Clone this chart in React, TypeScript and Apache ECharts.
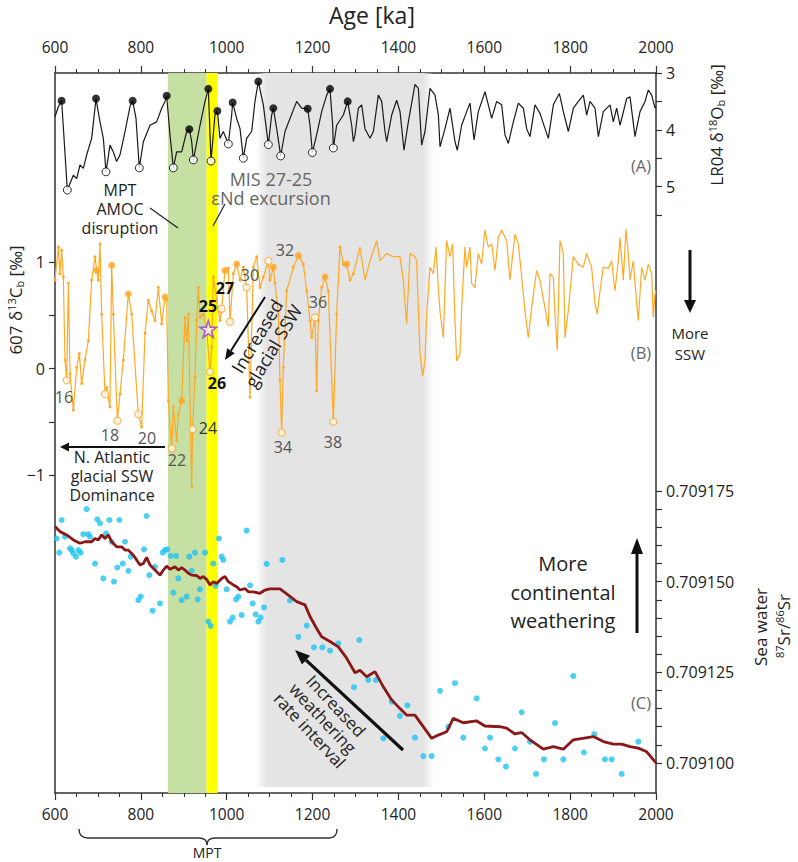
import React, { useEffect, useRef } from 'react';
import * as echarts from 'echarts';

const FONT = '"Open Sans", "Noto Sans", sans-serif';

// ---------- x axis ----------
const AGE_MIN = 600;
const AGE_MAX = 2000;
const AGE_STEP = 200;

// ---------- bands (ka) ----------
const greenBand = [863, 953];
const yellowBand = [953, 979];
const greyBand = [1068, 1482];

// ---------- (A) LR04 benthic d18O ----------
const lr04: number[][] = [
  [600.0,3.77],[607.8,3.59],[615.5,3.49],[628.7,5.06],[642.7,4.80],[650.5,4.86],[658.2,4.62],[666.0,4.68],[673.8,4.44],[685.4,4.15],
  [695.5,3.45],[704.8,3.86],[712.6,4.15],[718.8,4.74],[728.1,4.27],[735.9,4.39],[743.6,4.56],[751.4,4.44],[763.1,4.03],[774.7,3.59],
  [780.9,3.49],[788.7,3.80],[796.4,4.67],[805.8,4.21],[821.3,3.92],[836.8,3.86],[848.5,3.62],[856.2,3.50],[860.1,3.40],[867.9,4.09],
  [875.7,4.67],[883.4,4.39],[895.1,4.39],[906.7,4.03],[912.9,3.99],[918.4,4.21],[922.3,4.53],[937.8,3.92],[949.4,3.50],[957.2,3.28],
  [963.4,4.55],[972.7,3.74],[978.2,3.67],[984.4,4.15],[992.1,4.03],[1003.8,4.25],[1011.5,3.74],[1013.9,3.52],[1023.2,3.80],[1031.0,3.98],
  [1038.7,4.50],[1046.5,4.15],[1058.1,4.03],[1065.9,3.50],[1073.7,3.15],[1085.3,3.56],[1097.0,4.26],[1104.7,3.74],[1108.6,3.62],[1116.4,3.98],
  [1125.7,4.46],[1135.8,4.03],[1147.4,3.80],[1163.0,3.50],[1174.6,3.62],[1188.6,3.63],[1194.0,3.92],[1199.5,4.40],[1209.5,4.09],[1221.2,3.68],
  [1232.9,3.39],[1240.6,3.28],[1246.8,3.92],[1248.4,4.32],[1256.1,3.92],[1271.7,3.74],[1281.8,3.50],[1291.1,3.92],[1295.0,4.21],
  [1298.8,4.09],[1306.6,3.62],[1314.4,3.56],[1322.1,3.98],[1333.8,4.15],[1341.6,4.03],[1353.2,3.39],[1361.0,3.50],[1368.7,4.03],[1372.6,4.21],
  [1384.3,3.74],[1395.9,3.48],[1403.7,3.68],[1413.0,4.36],[1423.1,3.86],[1438.6,3.20],[1446.4,3.27],[1454.1,4.27],[1461.9,4.03],[1473.6,3.27],
  [1485.2,3.39],[1493.0,3.74],[1496.9,4.30],[1508.5,3.98],[1520.2,3.62],[1531.8,4.21],[1537.2,4.36],[1547.3,3.92],[1559.0,3.68],[1566.7,3.53],
  [1576.1,4.18],[1586.1,3.68],[1601.7,3.33],[1609.4,3.56],[1617.2,3.80],[1628.9,3.50],[1640.5,3.56],[1648.3,4.09],[1656.0,4.24],[1667.7,3.86],
  [1679.3,3.53],[1691.0,3.62],[1698.7,3.98],[1706.5,4.12],[1718.1,3.56],[1729.8,3.71],[1741.5,3.98],[1749.2,4.15],[1760.9,3.56],[1774.8,3.36],
  [1784.2,3.68],[1795.8,4.03],[1807.5,3.62],[1819.1,3.50],[1830.8,3.39],[1838.5,3.74],[1846.3,3.50],[1857.9,3.62],[1865.7,4.12],[1877.3,3.68],
  [1892.9,3.56],[1900.6,3.86],[1908.4,3.62],[1916.2,3.92],[1931.7,3.45],[1939.5,3.42],[1951.1,4.12],[1962.8,3.68],[1974.4,3.50],[1982.2,3.30],
  [1990.0,3.39],[1997.7,3.62],[2000.0,3.59],
];
const lr04Interglacials: number[][] = [
  [615.5,3.49],[695.5,3.45],[780.9,3.49],[860.1,3.40],[912.9,3.99],[957.2,3.28],[978.2,3.67],[1013.9,3.52],[1073.7,3.15],[1108.6,3.62],
  [1188.6,3.63],[1240.6,3.28],[1281.8,3.50],
];
const lr04Glacials: number[][] = [
  [628.7,5.06],[718.8,4.74],[796.4,4.67],[875.7,4.67],[922.3,4.53],[963.4,4.55],[1003.8,4.25],[1038.7,4.50],[1097.0,4.26],[1125.7,4.46],
  [1199.5,4.40],[1248.4,4.32],
];
const lr04Ticks = [3, 3.5, 4, 4.5, 5, 5.5];
const lr04Labels = [3, 4, 5];

// ---------- (B) Site 607 benthic d13C ----------
const d13cEarly: number[][] = [
  [600.0,0.83],[607.8,1.14],[611.7,0.89],[615.5,1.11],[619.4,0.86],[623.3,0.08],[627.2,-0.11],[631.1,0.80],[635.0,-0.05],[642.7,-0.39],
  [650.5,0.01],[656.7,0.14],[662.1,-0.14],[669.9,0.08],[677.7,0.26],[685.4,0.83],[693.2,1.05],[697.1,0.92],[700.9,0.83],[704.8,1.17],
  [708.7,0.51],[716.5,-0.24],[720.4,-0.18],[728.1,-0.36],[732.0,0.97],[735.9,0.51],[745.2,-0.49],[751.4,-0.24],[759.2,0.08],[770.8,0.70],
  [778.6,0.51],[794.1,-0.43],[801.9,-0.55],[809.7,0.33],[817.4,0.64],[825.2,0.54],[832.9,0.45],[840.7,0.76],[848.5,0.42],[856.3,0.67],
  [860.1,0.64],[864.0,-0.30],[871.8,-0.75],[875.7,-0.36],[883.4,-0.68],[887.3,-0.43],[895.1,-0.30],[902.8,0.48],[906.7,0.26],[910.6,0.51],
  [918.4,-1.11],[920.7,-0.57],[926.1,-0.08],[930.0,0.45],[933.9,0.76],[937.8,0.48],[945.5,0.51],[953.3,0.36],[961.1,-0.03],[965.0,0.20],
  [968.8,0.86],[976.6,0.64],[984.4,0.45],[988.2,0.56],[996.0,0.92],[1003.8,0.94],[1007.7,0.44],[1015.4,0.89],[1023.2,0.98],[1031.0,0.83],
  [1038.7,0.95],[1046.5,0.76],[1054.3,-0.27],[1062.0,0.95],[1069.8,1.05],[1077.6,0.76],[1085.3,0.86],[1097.0,1.01],[1100.8,0.83],[1108.6,0.95],
  [1112.5,0.80],[1120.3,0.51],[1124.1,-0.11],[1128.0,-0.60],[1131.9,0.01],[1139.7,0.73],[1155.2,0.95],[1166.8,1.06],[1178.5,0.98],[1186.3,0.73],
  [1194.0,0.45],[1197.9,0.29],[1205.7,0.48],[1209.5,-0.21],[1213.4,0.45],[1221.2,0.76],[1229.0,0.86],[1236.7,0.73],[1248.4,-0.50],[1256.1,0.51],
  [1263.9,1.14],[1271.7,0.98],[1279.4,0.98],[1287.2,0.83],[1295.0,0.89],
];
const d13cLate: number[][] = [
  [1295.0,0.89],[1310.5,1.14],[1322.1,0.83],[1333.8,1.01],[1349.3,1.20],[1357.1,1.01],[1372.6,1.08],[1388.1,1.05],[1403.6,1.05],[1411.4,0.83],
  [1419.0,0.42],[1427.0,1.08],[1438.5,1.05],[1442.4,1.01],[1450.2,0.14],[1456.4,-0.07],[1461.8,0.07],[1465.7,0.51],[1473.5,0.95],[1481.3,0.89],
  [1487.5,1.14],[1492.9,0.76],[1496.8,0.54],[1504.5,0.29],[1512.3,1.20],[1520.1,1.05],[1526.3,1.17],[1531.7,0.45],[1535.6,0.07],[1543.4,0.14],
  [1547.3,0.57],[1555.0,1.14],[1558.9,0.95],[1566.7,1.14],[1570.5,0.80],[1578.3,0.76],[1586.0,1.08],[1593.8,0.98],[1601.6,1.30],[1609.4,1.14],
  [1617.1,1.17],[1625.0,0.92],[1632.7,1.23],[1640.4,1.30],[1652.1,1.20],[1659.8,0.83],[1671.5,1.26],[1679.3,1.17],[1687.0,0.86],[1694.8,0.54],
  [1702.5,0.29],[1710.3,0.57],[1722.0,0.92],[1729.7,0.83],[1741.4,0.57],[1749.1,0.39],[1753.0,0.89],[1760.8,0.86],[1764.7,0.51],[1770.1,0.17],
  [1776.3,1.20],[1784.1,1.08],[1788.0,0.29],[1795.7,0.54],[1807.4,1.05],[1819.0,0.98],[1830.7,0.95],[1838.4,1.08],[1850.0,0.95],[1857.9,0.61],
  [1863.3,0.51],[1869.5,0.73],[1877.3,0.95],[1888.9,0.94],[1896.7,1.01],[1904.4,0.73],[1912.2,1.01],[1916.1,1.23],[1923.9,0.83],[1930.0,1.31],
  [1935.5,1.08],[1939.4,0.83],[1947.2,1.01],[1951.1,0.80],[1958.8,0.45],[1966.6,0.95],[1974.3,0.83],[1982.1,0.98],[1989.9,0.89],[1993.7,0.48],
  [1997.6,0.70],[2000.0,0.73],
];
const d13cInterglacials: number[][] = [
  [697.1,0.92],[732.0,0.97],[770.8,0.70],[856.3,0.67],[895.1,-0.30],[996.0,0.92],[1023.2,0.98],[1108.6,0.95],[1166.8,1.06],[1229.0,0.86],
  [1279.4,0.98],
];
const d13cGlacials: number[][] = [
  [627.2,-0.11],[716.5,-0.24],[745.2,-0.49],[794.1,-0.43],[871.8,-0.75],[920.7,-0.57],[961.1,-0.03],[988.2,0.56],[1007.7,0.44],[1046.5,0.76],
  [1097.0,1.01],[1128.0,-0.60],[1205.7,0.48],[1248.4,-0.50],
];
const mis2725Star: number[][] = [[957.1, 0.37]];
const d13cTicks = [-1, -0.5, 0, 0.5, 1];
const d13cLabels = [-1, 0, 1];

// ---------- (C) seawater 87Sr/86Sr ----------
const srCurve: number[][] = [
  [600.0,0.7091652],[611.7,0.7091638],[627.2,0.7091629],[642.7,0.7091615],[658.2,0.7091606],[669.9,0.7091610],[685.4,0.7091610],[693.2,0.7091619],
  [700.9,0.7091615],[708.7,0.7091629],[716.5,0.7091619],[724.2,0.7091629],[732.0,0.7091610],[743.7,0.7091596],[755.3,0.7091596],[763.1,0.7091587],
  [770.8,0.7091587],[782.5,0.7091573],[790.2,0.7091560],[798.0,0.7091546],[805.8,0.7091550],[813.5,0.7091567],[821.3,0.7091546],[832.9,0.7091532],
  [844.6,0.7091518],[852.4,0.7091532],[860.1,0.7091543],[867.9,0.7091534],[879.5,0.7091541],[887.3,0.7091532],[895.1,0.7091539],[902.8,0.7091532],
  [910.6,0.7091523],[918.4,0.7091518],[930.0,0.7091517],[937.8,0.7091509],[945.5,0.7091514],[953.3,0.7091506],[961.1,0.7091491],[968.8,0.7091500],
  [976.6,0.7091495],[988.2,0.7091509],[996.0,0.7091514],[1003.8,0.7091500],[1015.4,0.7091491],[1023.2,0.7091486],[1031.0,0.7091477],[1042.6,0.7091481],
  [1050.4,0.7091472],[1062.0,0.7091472],[1077.6,0.7091468],[1089.2,0.7091477],[1100.8,0.7091480],[1124.1,0.7091480],[1143.5,0.7091463],[1163.0,0.7091445],
  [1182.4,0.7091436],[1194.0,0.7091404],[1209.5,0.7091371],[1221.2,0.7091348],[1240.6,0.7091335],[1260.0,0.7091320],[1279.4,0.7091289],[1298.9,0.7091249],
  [1310.5,0.7091256],[1326.0,0.7091238],[1345.4,0.7091252],[1364.8,0.7091210],[1384.3,0.7091174],[1403.7,0.7091150],[1419.1,0.7091132],[1438.5,0.7091132],
  [1477.4,0.7091068],[1492.9,0.7091077],[1512.3,0.7091086],[1527.8,0.7091123],[1551.1,0.7091111],[1582.2,0.7091116],[1601.6,0.7091102],[1636.5,0.7091100],
  [1652.0,0.7091096],[1671.5,0.7091080],[1687.0,0.7091084],[1706.4,0.7091064],[1737.5,0.7091038],[1760.8,0.7091045],[1784.1,0.7091038],[1807.4,0.7091064],
  [1854.0,0.7091073],[1877.3,0.7091059],[1900.6,0.7091052],[1920.0,0.7091052],[1939.4,0.7091045],[1958.8,0.7091041],[1978.2,0.7091031],[1997.6,0.7091004],
  [2000.0,0.7091000],
];
const srMeasured: number[][] = [
  [603.9,0.7091619],[610.1,0.7091580],[615.5,0.7091670],[623.3,0.7091624],[635.0,0.7091592],[638.8,0.7091587],[642.7,0.7091578],[648.9,0.7091569],
  [654.4,0.7091587],[659.8,0.7091580],[666.0,0.7091631],[673.8,0.7091700],[677.7,0.7091631],[681.5,0.7091624],[693.2,0.7091550],[698.6,0.7091672],
  [704.8,0.7091661],[712.6,0.7091509],[718.8,0.7091633],[726.6,0.7091670],[732.0,0.7091610],[737.5,0.7091500],[745.2,0.7091539],[749.9,0.7091670],
  [757.6,0.7091550],[763.1,0.7091610],[770.8,0.7091530],[776.3,0.7091569],[794.1,0.7091449],[799.6,0.7091459],[807.3,0.7091589],[813.5,0.7091681],
  [819.7,0.7091518],[827.5,0.7091420],[832.9,0.7091541],[844.6,0.7091440],[850.8,0.7091580],[856.2,0.7091587],[861.7,0.7091589],[869.4,0.7091571],
  [875.7,0.7091470],[881.9,0.7091571],[887.3,0.7091509],[895.1,0.7091449],[906.7,0.7091459],[912.9,0.7091569],[918.4,0.7091530],[926.1,0.7091580],
  [932.3,0.7091451],[937.8,0.7091479],[949.4,0.7091580],[957.2,0.7091390],[962.6,0.7091378],[968.8,0.7091550],[974.3,0.7091488],[982.0,0.7091619],
  [988.2,0.7091569],[992.1,0.7091560],[999.9,0.7091479],[1007.7,0.7091390],[1013.9,0.7091401],[1021.6,0.7091451],[1027.1,0.7091459],[1034.8,0.7091408],
  [1046.5,0.7091641],[1054.3,0.7091490],[1060.5,0.7091440],[1067.5,0.7091410],[1073.7,0.7091390],[1079.1,0.7091401],[1086.9,0.7091429],[1093.1,0.7091549],
  [1129.6,0.7091560],[1147.4,0.7091448],[1166.8,0.7091348],[1186.3,0.7091379],[1203.3,0.7091319],[1222.8,0.7091319],[1240.6,0.7091310],[1260.0,0.7091330],
  [1296.5,0.7091209],[1308.9,0.7091339],[1329.9,0.7091229],[1347.8,0.7091229],[1364.8,0.7091068],[1384.3,0.7091169],[1403.6,0.7091130],[1420.7,0.7091159],
  [1438.5,0.7091070],[1458.0,0.7091019],[1477.4,0.7091019],[1496.8,0.7091199],[1516.2,0.7091100],[1531.7,0.7091220],[1551.1,0.7091070],[1582.2,0.7091178],
  [1601.6,0.7091040],[1613.3,0.7091070],[1632.7,0.7091010],[1650.5,0.7090990],[1671.5,0.7091040],[1687.0,0.7091140],[1706.4,0.7091059],[1720.4,0.7090970],
  [1739.0,0.7091010],[1764.7,0.7091110],[1784.1,0.7091010],[1807.4,0.7091240],[1832.2,0.7091029],[1856.3,0.7091080],[1881.1,0.7091010],[1896.7,0.7091010],
  [1920.0,0.7090970],[1958.8,0.7091059],
];
const srTicks = Array.from({ length: 16 }, (_, i) => (709100 + 5 * i) / 1e6);
const srLabels = [0.7091, 0.709125, 0.70915, 0.709175];

// ---------- annotation texts ----------
const stageLabels = [
  { t: '16', x: 64, y: 397, c: '#555', w: 'normal' },
  { t: '18', x: 110, y: 435, c: '#555', w: 'normal' },
  { t: '20', x: 147, y: 438, c: '#555', w: 'normal' },
  { t: '22', x: 177, y: 460, c: '#555', w: 'normal' },
  { t: '24', x: 208, y: 428, c: '#333', w: 'normal' },
  { t: '25', x: 208, y: 306, c: '#111', w: 'bold' },
  { t: '26', x: 217, y: 383, c: '#111', w: 'bold' },
  { t: '27', x: 225, y: 288, c: '#111', w: 'bold' },
  { t: '30', x: 250, y: 275, c: '#555', w: 'normal' },
  { t: '32', x: 285, y: 250, c: '#555', w: 'normal' },
  { t: '34', x: 283, y: 447, c: '#555', w: 'normal' },
  { t: '36', x: 318, y: 302, c: '#555', w: 'normal' },
  { t: '38', x: 333, y: 442, c: '#555', w: 'normal' },
];

const AXIS_COLOR = '#333';
const ORANGE = '#FFA826';
const TEXT = '#222';

function txt(x: number, y: number, text: string, size: number, fill = TEXT, extra: any = {}, rotation = 0) {
  return {
    type: 'text', x, y, z: 100, rotation,
    style: { text, fill, fontSize: size, fontFamily: FONT, align: 'center', verticalAlign: 'middle', ...extra },
  };
}

function arrow(x1: number, y1: number, x2: number, y2: number, width: number, headLen: number, headHalf: number) {
  const dx = x2 - x1, dy = y2 - y1;
  const len = Math.sqrt(dx * dx + dy * dy);
  const ux = dx / len, uy = dy / len;
  const bx = x2 - ux * headLen, by = y2 - uy * headLen;
  const px = -uy, py = ux;
  return [
    { type: 'line', z: 100, shape: { x1, y1, x2: bx, y2: by }, style: { stroke: '#111', lineWidth: width } },
    {
      type: 'polygon', z: 100,
      shape: { points: [[x2, y2], [bx + px * headHalf, by + py * headHalf], [bx - px * headHalf, by - py * headHalf]] },
      style: { fill: '#111' },
    },
  ];
}

const supRich = {
  sup: { fontSize: 11, fontFamily: FONT, verticalAlign: 'top', lineHeight: 19, fill: TEXT },
  sub: { fontSize: 11, fontFamily: FONT, verticalAlign: 'bottom', lineHeight: 19, fill: TEXT },
  n: { fontSize: 17, fontFamily: FONT, lineHeight: 19, fill: TEXT },
};

function buildOption(): any {
  const hiddenX = (gridIndex: number) => ({
    type: 'value', gridIndex, min: AGE_MIN, max: AGE_MAX, show: false,
  });
  const mainX = (position: 'top' | 'bottom', margin: number) => ({
    type: 'value', gridIndex: 0, position, min: AGE_MIN, max: AGE_MAX, interval: AGE_STEP,
    axisLine: { show: true, onZero: false, lineStyle: { color: AXIS_COLOR, width: 1.5 } },
    axisTick: { show: true, length: 7, lineStyle: { color: AXIS_COLOR, width: 1.2 } },
    minorTick: { show: true, splitNumber: 4, length: 4, lineStyle: { color: AXIS_COLOR, width: 1 } },
    axisLabel: { fontSize: 15.5, fontFamily: FONT, color: TEXT, margin, formatter: (v: number) => String(v) },
    splitLine: { show: false },
  });
  const frameY = (position: 'left' | 'right') => ({
    type: 'value', gridIndex: 0, position, min: 0, max: 720, inverse: true,
    axisLine: { show: true, onZero: false, lineStyle: { color: AXIS_COLOR, width: 1.5 } },
    axisTick: { show: false }, axisLabel: { show: false }, splitLine: { show: false },
  });

  const graphic: any[] = [
    txt(372, 15, 'Age [ka]', 23),
    // axis names
    {
      type: 'text', x: 716, y: 125, z: 100, rotation: Math.PI / 2,
      style: { text: '{n|LR04 δ}{sup|18}{n|O}{sub|b}{n| [‰]}', rich: supRich, align: 'center', verticalAlign: 'middle' },
    },
    {
      type: 'text', x: 15, y: 300, z: 100, rotation: Math.PI / 2,
      style: { text: '{n|607 δ}{sup|13}{n|C}{sub|b}{n| [‰]}', rich: supRich, align: 'center', verticalAlign: 'middle' },
    },
    txt(760, 627, 'Sea water', 17, TEXT, {}, Math.PI / 2),
    {
      type: 'text', x: 783, y: 626, z: 100, rotation: Math.PI / 2,
      style: { text: '{sup|87}{n|Sr/}{sup|86}{n|Sr}', rich: supRich, align: 'center', verticalAlign: 'middle' },
    },
    // panel letters
    txt(641, 165, '(A)', 16.5, '#666'),
    txt(641, 352, '(B)', 16.5, '#666'),
    txt(641, 702, '(C)', 16.5, '#666'),
    // right-side notes
    txt(690, 343, 'More\nSSW', 15, TEXT, { lineHeight: 21 }),
    ...arrow(690, 250, 690, 313, 3, 13, 6),
    txt(563, 592, 'More\ncontinental\nweathering', 20, TEXT, { lineHeight: 28.5 }),
    ...arrow(637, 633, 637, 538, 3, 16, 6),
    // MPT AMOC disruption
    txt(120, 209, 'MPT\nAMOC\ndisruption', 16, TEXT, { lineHeight: 19 }),
    { type: 'line', z: 100, shape: { x1: 150, y1: 208, x2: 178, y2: 228 }, style: { stroke: '#222', lineWidth: 1.2 } },
    // MIS 27-25
    txt(271, 188, 'MIS 27-25\nεNd excursion', 18, '#666', { lineHeight: 19 }),
    { type: 'line', z: 100, shape: { x1: 225, y1: 204, x2: 213, y2: 226 }, style: { stroke: '#222', lineWidth: 1.2 } },
    // N Atlantic
    txt(112, 476, 'N. Atlantic\nglacial SSW\nDominance', 16, TEXT, { lineHeight: 19 }),
    ...arrow(165, 447, 60, 447, 2, 9, 4.5),
    // Increased glacial SSW
    txt(265, 341, 'Increased\nglacial SSW', 18, TEXT, { lineHeight: 19 }, 1.03),
    ...arrow(265, 297, 225, 360, 2, 11, 4.5),
    // Increased weathering
    txt(323, 718, 'Increased\nweathering\nrate interval', 17, TEXT, { lineHeight: 18 }, -0.82),
    ...arrow(403, 750, 295, 650, 3.2, 15, 6),
    // MPT bracket
    { type: 'bezierCurve', z: 100, shape: { x1: 79, y1: 829, x2: 88, y2: 838, cpx1: 79, cpy1: 838 }, style: { stroke: '#333', lineWidth: 1.4, fill: null } },
    { type: 'line', z: 100, shape: { x1: 88, y1: 838, x2: 199, y2: 838 }, style: { stroke: '#333', lineWidth: 1.4 } },
    { type: 'bezierCurve', z: 100, shape: { x1: 199, y1: 838, x2: 207, y2: 845, cpx1: 207, cpy1: 838 }, style: { stroke: '#333', lineWidth: 1.4, fill: null } },
    { type: 'bezierCurve', z: 100, shape: { x1: 207, y1: 845, x2: 215, y2: 838, cpx1: 207, cpy1: 838 }, style: { stroke: '#333', lineWidth: 1.4, fill: null } },
    { type: 'line', z: 100, shape: { x1: 215, y1: 838, x2: 329, y2: 838 }, style: { stroke: '#333', lineWidth: 1.4 } },
    { type: 'bezierCurve', z: 100, shape: { x1: 329, y1: 838, x2: 337, y2: 829, cpx1: 337, cpy1: 838 }, style: { stroke: '#333', lineWidth: 1.4, fill: null } },
    txt(207, 852, 'MPT', 14),
    ...stageLabels.map((s) => txt(s.x, s.y, s.t, 16, s.c, { fontWeight: s.w })),
  ];

  return {
    animation: false,
    backgroundColor: '#fff',
    grid: [
      { left: 55, top: 73, width: 601, height: 720 },
      { left: 55, top: 73, width: 601, height: 142 },
      { left: 55, top: 262, width: 601, height: 213 },
      { left: 55, top: 491, width: 601, height: 272 },
    ],
    xAxis: [mainX('top', 18), mainX('bottom', 13), hiddenX(1), hiddenX(2), hiddenX(3)],
    yAxis: [
      frameY('left'),
      frameY('right'),
      {
        type: 'value', gridIndex: 1, position: 'right', inverse: true, min: 3, max: 5.5,
        axisLine: { show: false },
        axisTick: { show: true, customValues: lr04Ticks, length: 6, lineStyle: { color: AXIS_COLOR, width: 1.2 } },
        axisLabel: { customValues: lr04Labels, fontSize: 16, fontFamily: FONT, color: TEXT, margin: 10 },
        splitLine: { show: false },
      },
      {
        type: 'value', gridIndex: 2, position: 'left', min: -1, max: 1,
        axisLine: { show: false },
        axisTick: { show: true, customValues: d13cTicks, length: 6, lineStyle: { color: AXIS_COLOR, width: 1.2 } },
        axisLabel: {
          customValues: d13cLabels, fontSize: 16, fontFamily: FONT, color: TEXT, margin: 10,
          formatter: (v: number) => (v < 0 ? '\u2212' + Math.abs(v) : String(v)),
        },
        splitLine: { show: false },
      },
      {
        type: 'value', gridIndex: 3, position: 'right', min: 0.7091, max: 0.709175,
        axisLine: { show: false },
        axisTick: { show: true, customValues: srTicks, length: 6, lineStyle: { color: AXIS_COLOR, width: 1.2 } },
        axisLabel: {
          customValues: srLabels, fontSize: 16, fontFamily: FONT, color: TEXT, margin: 10,
          formatter: (v: number) => v.toFixed(6),
        },
        splitLine: { show: false },
      },
    ],
    graphic,
    series: [
      {
        type: 'line', xAxisIndex: 1, yAxisIndex: 0, data: [[AGE_MIN, 0]], symbol: 'none', silent: true,
        lineStyle: { width: 0, opacity: 0 }, z: 1,
        markArea: {
          silent: true,
          data: [
            [{ xAxis: greenBand[0], yAxis: 0, itemStyle: { color: '#c6e0a4' } }, { xAxis: greenBand[1], yAxis: 720 }],
            [{ xAxis: yellowBand[0], yAxis: 0, itemStyle: { color: '#ffff00' } }, { xAxis: yellowBand[1], yAxis: 720 }],
            [
              {
                xAxis: greyBand[0], yAxis: 0,
                itemStyle: {
                  color: {
                    type: 'linear', x: 0, y: 0, x2: 1, y2: 0,
                    colorStops: [
                      { offset: 0, color: 'rgba(228,228,228,0)' },
                      { offset: 0.06, color: 'rgba(228,228,228,1)' },
                      { offset: 0.94, color: 'rgba(228,228,228,1)' },
                      { offset: 1, color: 'rgba(228,228,228,0)' },
                    ],
                  },
                },
              },
              { xAxis: greyBand[1], yAxis: 714 },
            ],
          ],
        },
      },
      {
        name: 'LR04', type: 'line', xAxisIndex: 2, yAxisIndex: 2, data: lr04, symbol: 'none', clip: false,
        lineStyle: { color: '#1a1a1a', width: 1.2 }, z: 3,
      },
      {
        type: 'scatter', xAxisIndex: 2, yAxisIndex: 2, data: lr04Interglacials, symbolSize: 8, clip: false,
        itemStyle: { color: '#000' }, z: 4,
      },
      {
        type: 'scatter', xAxisIndex: 2, yAxisIndex: 2, data: lr04Glacials, symbolSize: 8, clip: false,
        itemStyle: { color: '#fff', borderColor: '#000', borderWidth: 1 }, z: 4,
      },
      {
        name: '607 early', type: 'line', xAxisIndex: 3, yAxisIndex: 3, data: d13cEarly, clip: false,
        symbol: 'circle', symbolSize: 3, showSymbol: true, showAllSymbol: true,
        itemStyle: { color: ORANGE }, lineStyle: { color: ORANGE, width: 1.2 }, z: 3,
      },
      {
        name: '607 late', type: 'line', xAxisIndex: 3, yAxisIndex: 3, data: d13cLate, clip: false,
        symbol: 'none', lineStyle: { color: ORANGE, width: 1.2 }, z: 3,
      },
      {
        type: 'scatter', xAxisIndex: 3, yAxisIndex: 3, data: d13cInterglacials, symbolSize: 7, clip: false,
        itemStyle: { color: ORANGE }, z: 4,
      },
      {
        type: 'scatter', xAxisIndex: 3, yAxisIndex: 3, data: d13cGlacials, symbolSize: 7, clip: false,
        itemStyle: { color: '#fff', borderColor: ORANGE, borderWidth: 1.2 }, z: 4,
      },
      {
        type: 'scatter', xAxisIndex: 3, yAxisIndex: 3, data: mis2725Star, symbolSize: 17, clip: false,
        symbol: 'path://M50,0 L61,35 L98,35 L68,57 L79,91 L50,70 L21,91 L32,57 L2,35 L39,35 Z',
        itemStyle: { color: '#f4e8ff', borderColor: '#9b30d9', borderWidth: 1.5 }, z: 5,
      },
      {
        type: 'scatter', xAxisIndex: 4, yAxisIndex: 4, data: srMeasured, symbolSize: 6, clip: false,
        itemStyle: { color: '#1ec3f2' }, z: 3,
      },
      {
        name: 'Sr curve', type: 'line', xAxisIndex: 4, yAxisIndex: 4, data: srCurve, symbol: 'none', clip: false,
        lineStyle: { color: '#8b1818', width: 2.8 }, z: 4,
      },
    ],
  };
}

export default function App() {
  const ref = useRef<HTMLDivElement>(null);
  useEffect(() => {
    if (!ref.current) return;
    const chart = echarts.init(ref.current, undefined, { renderer: 'svg', width: 798, height: 862 });
    chart.setOption(buildOption());
    return () => chart.dispose();
  }, []);
  return (
    <div
      ref={ref}
      style={{ position: 'fixed', left: 0, top: 0, width: 798, height: 862, background: '#fff' }}
    />
  );
}
